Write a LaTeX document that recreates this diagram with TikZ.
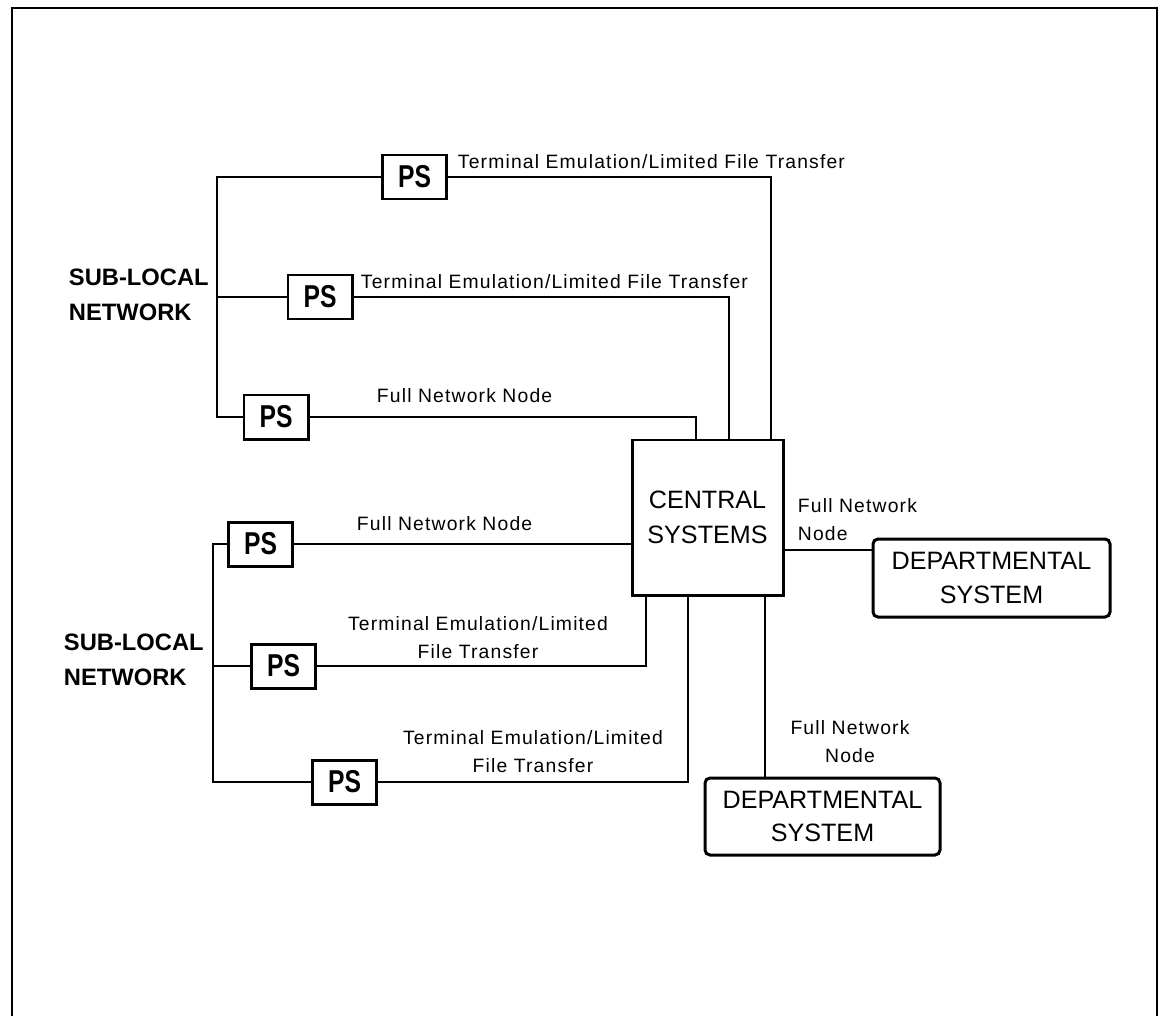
\documentclass[tikz,border=0pt]{standalone}
\usepackage{fontspec}
\setmainfont{Liberation Sans}
\newfontfamily\lblfont[LetterSpace=6]{Liberation Sans}
\newfontfamily\psfont[FakeStretch=0.78]{Liberation Sans}

\begin{document}
\begin{tikzpicture}[x=0.2mm, y=-0.2mm,
every path/.style = {line width=1.1pt},
psbox/.style   = {draw, line width=1.7pt, minimum width=12.8mm, minimum height=8.8mm,
                  inner sep=0pt, font=\psfont\bfseries\fontsize{18}{18}\selectfont},
sysbox/.style  = {draw, line width=1.7pt, inner sep=0pt, align=center,
                  font=\fontsize{14.3}{19.8}\selectfont},
lbl/.style     = {inner sep=0pt, font=\lblfont\fontsize{11}{15.5}\selectfont},
netlbl/.style  = {inner sep=0pt, align=left, font=\bfseries\fontsize{13.5}{20}\selectfont}
                    ]
\useasboundingbox (0,0) rectangle (1161,1016);
\draw[line width=1.6pt] (12,1016) -- (12,8) -- (1157,8) -- (1157,1016);
%
\foreach \n/\x/\y in {1/414.5/177, 2/320/297, 3/276/417,
                      4/260.5/544, 5/283.5/666, 6/344.5/782}
    \node[psbox] (ps\n) at (\x,\y) {PS};
\node[sysbox, minimum width=30.2mm, minimum height=31mm] (cs) at (707.5,517.5) {CENTRAL\\SYSTEMS};
\node[sysbox, rounded corners=1mm, minimum width=47.4mm, minimum height=15.6mm,
      font=\fontsize{14.3}{19}\selectfont] (dep1) at (991.5,578) {DEPARTMENTAL\\SYSTEM};
\node[sysbox, rounded corners=1mm, minimum width=47mm, minimum height=15.4mm,
      font=\fontsize{14.3}{19}\selectfont] (dep2) at (822.5,816.5) {DEPARTMENTAL\\SYSTEM};
%
\node[netlbl, anchor=north west] (net1) at (68,268) {SUB-LOCAL\\NETWORK};
\node[netlbl, anchor=north west] (net2) at (63,633) {SUB-LOCAL\\NETWORK};
%
\coordinate (bus1t) at (217,177);
\coordinate (bus1b) at (217,417);
\coordinate (bus2t) at (213,544);
\coordinate (bus2b) at (213,782);
\draw (ps1.west) -- (bus1t) -- (bus1b) -- (ps3.west);
\draw (ps2.west) -- (ps2.west -| bus1t);
\draw (ps4.west) -- (bus2t) -- (bus2b) -- (ps6.west);
\draw (ps5.west) -- (ps5.west -| bus2t);
%
\draw (ps1.east) -| ([xshift=12.7mm]cs.north);
\draw (ps2.east) -| ([xshift=4.3mm]cs.north);
\draw (ps3.east) -| ([xshift=-2.3mm]cs.north);
\draw (ps4.east) -- (ps4.east -| cs.west);
\draw ([xshift=-12.3mm]cs.south) |- (ps5.east);
\draw ([xshift=-3.9mm]cs.south) |- (ps6.east);
\draw ([yshift=-6.5mm]cs.east) coordinate (c1) -- (c1 -| dep1.west);
\draw ([xshift=11.5mm]cs.south) coordinate (c2) -- (c2 |- dep2.north);
%
\node[lbl, anchor=base west] (l1) at (457,168) {Terminal Emulation/Limited File Transfer};
\node[lbl, anchor=base west] (l2) at (360,288) {Terminal Emulation/Limited File Transfer};
\node[lbl, anchor=base west] (l3) at (376,402) {Full Network Node};
\node[lbl, anchor=base west] (l4) at (356,530) {Full Network Node};
\node[lbl, anchor=north, align=center] (l5) at (478,616) {Terminal Emulation/Limited\\File Transfer};
\node[lbl, anchor=north, align=center] (l6) at (533,730) {Terminal Emulation/Limited\\File Transfer};
\node[lbl, anchor=north west, align=left] (l7) at (797,498) {Full Network\\Node};
\node[lbl, anchor=north, align=center] (l8) at (850,720) {Full Network\\Node};
\end{tikzpicture}
\end{document}
